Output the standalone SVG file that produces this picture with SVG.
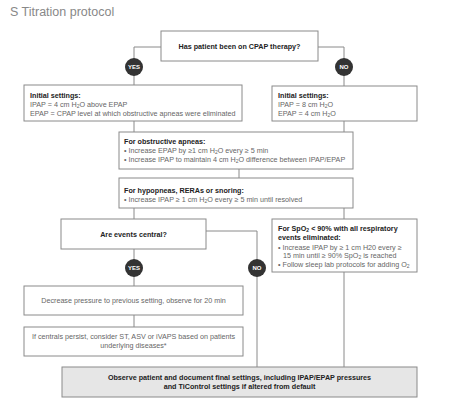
<svg xmlns="http://www.w3.org/2000/svg" width="474" height="402" viewBox="0 0 474 402">
<style>
text{font-family:"Liberation Sans",Arial,sans-serif;font-size:7.2px;fill:#666}
.b{font-weight:bold;fill:#222}
.box{fill:#fff;stroke:#8a8a8a;stroke-width:1}
.fin{fill:#e6e6e6;stroke:#8a8a8a;stroke-width:1}
.ln{fill:none;stroke:#8a8a8a;stroke-width:1}
.c{fill:#333}
.ct{font-weight:bold;fill:#fff;font-size:6px;text-anchor:middle}
.m{text-anchor:middle}
.s{font-size:5px}
</style>
<rect width="474" height="402" fill="#fff"/>
<text x="10" y="16" style="font-size:12.5px;fill:#888">S Titration protocol</text>

<g id="connectors">
<polyline class="ln" points="161,47 134,47 134,85"/>
<polyline class="ln" points="318,47 344,47 344,86"/>
<line class="ln" x1="134" y1="121" x2="134" y2="132"/>
<line class="ln" x1="344" y1="121" x2="344" y2="132"/>
<line class="ln" x1="239" y1="169" x2="239" y2="178"/>
<line class="ln" x1="134" y1="208" x2="134" y2="219"/>
<line class="ln" x1="344" y1="208" x2="344" y2="219"/>
<polyline class="ln" points="206,231 257,231 257,367"/>
<line class="ln" x1="134" y1="249" x2="134" y2="286"/>
<line class="ln" x1="134" y1="315" x2="134" y2="327"/>
<line class="ln" x1="344" y1="272" x2="344" y2="367"/>
<circle class="c" cx="134" cy="67" r="9"/><text class="ct" x="134" y="69.2">YES</text>
<circle class="c" cx="344" cy="67" r="9"/><text class="ct" x="344" y="69.2">NO</text>
<circle class="c" cx="134" cy="268" r="9"/><text class="ct" x="134" y="270.2">YES</text>
<circle class="c" cx="257" cy="268" r="9"/><text class="ct" x="257" y="270.2">NO</text>
</g>

<g id="q1">
<rect class="box" x="161" y="31" width="157" height="30"/>
<text class="b m" x="239.5" y="48.5">Has patient been on CPAP therapy?</text>
</g>

<g id="init-yes">
<rect class="box" x="24" y="85" width="218" height="36"/>
<text class="b" x="30" y="97.5">Initial settings:</text>
<text x="30" y="106.5">IPAP = 4 cm H<tspan class="s" dy="1.5">2</tspan><tspan dy="-1.5">O above EPAP</tspan></text>
<text x="30" y="115.5">EPAP = CPAP level at which obstructive apneas were eliminated</text>
</g>

<g id="init-no">
<rect class="box" x="272" y="86" width="145" height="35"/>
<text class="b" x="278" y="97.5">Initial settings:</text>
<text x="278" y="106.5">IPAP = 8 cm H<tspan class="s" dy="1.5">2</tspan><tspan dy="-1.5">O</tspan></text>
<text x="278" y="115.5">EPAP = 4 cm H<tspan class="s" dy="1.5">2</tspan><tspan dy="-1.5">O</tspan></text>
</g>

<g id="obstructive">
<rect class="box" x="119" y="132" width="234" height="37"/>
<text class="b" x="124" y="143.5">For obstructive apneas:</text>
<text x="124" y="152.5">• Increase EPAP by ≥1 cm H<tspan class="s" dy="1.5">2</tspan><tspan dy="-1.5">O every ≥ 5 min</tspan></text>
<text x="124" y="161.5">• Increase IPAP to maintain 4 cm H<tspan class="s" dy="1.5">2</tspan><tspan dy="-1.5">O difference between IPAP/EPAP</tspan></text>
</g>

<g id="hypopneas">
<rect class="box" x="119" y="178" width="234" height="30"/>
<text class="b" x="124" y="192.5">For hypopneas, RERAs or snoring:</text>
<text x="124" y="201.5">• Increase IPAP ≥ 1 cm H<tspan class="s" dy="1.5">2</tspan><tspan dy="-1.5">O every ≥ 5 min until resolved</tspan></text>
</g>

<g id="central">
<rect class="box" x="61" y="219" width="145" height="30"/>
<text class="b m" x="133.5" y="236.5">Are events central?</text>
</g>

<g id="spo2">
<rect class="box" x="272" y="219" width="145" height="53"/>
<text class="b" x="278" y="230.5">For SpO<tspan class="s" dy="1.5">2</tspan><tspan dy="-1.5"> &lt; 90% with all respiratory</tspan></text>
<text class="b" x="278" y="239.5">events eliminated:</text>
<text x="278" y="249.5">• Increase IPAP by ≥ 1 cm H20 every ≥</text>
<text x="283" y="257.5">15 min until ≥ 90% SpO<tspan class="s" dy="1.5">2</tspan><tspan dy="-1.5"> is reached</tspan></text>
<text x="278" y="266.5">• Follow sleep lab protocols for adding O<tspan class="s" dy="1.5">2</tspan></text>
</g>

<g id="decrease">
<rect class="box" x="24" y="286" width="219" height="29"/>
<text class="m" x="133.5" y="302.5">Decrease pressure to previous setting, observe for 20 min</text>
</g>

<g id="persist">
<rect class="box" x="24" y="327" width="219" height="29"/>
<text class="m" x="133.5" y="338.5">If centrals persist, consider ST, ASV or iVAPS based on patients</text>
<text class="m" x="133.5" y="348">underlying diseases*</text>
</g>

<g id="final">
<rect class="fin" x="62" y="367" width="355" height="30"/>
<text class="b m" x="239.5" y="379.5">Observe patient and document final settings, including IPAP/EPAP pressures</text>
<text class="b m" x="239.5" y="389">and TiControl settings if altered from default</text>
</g>
</svg>
